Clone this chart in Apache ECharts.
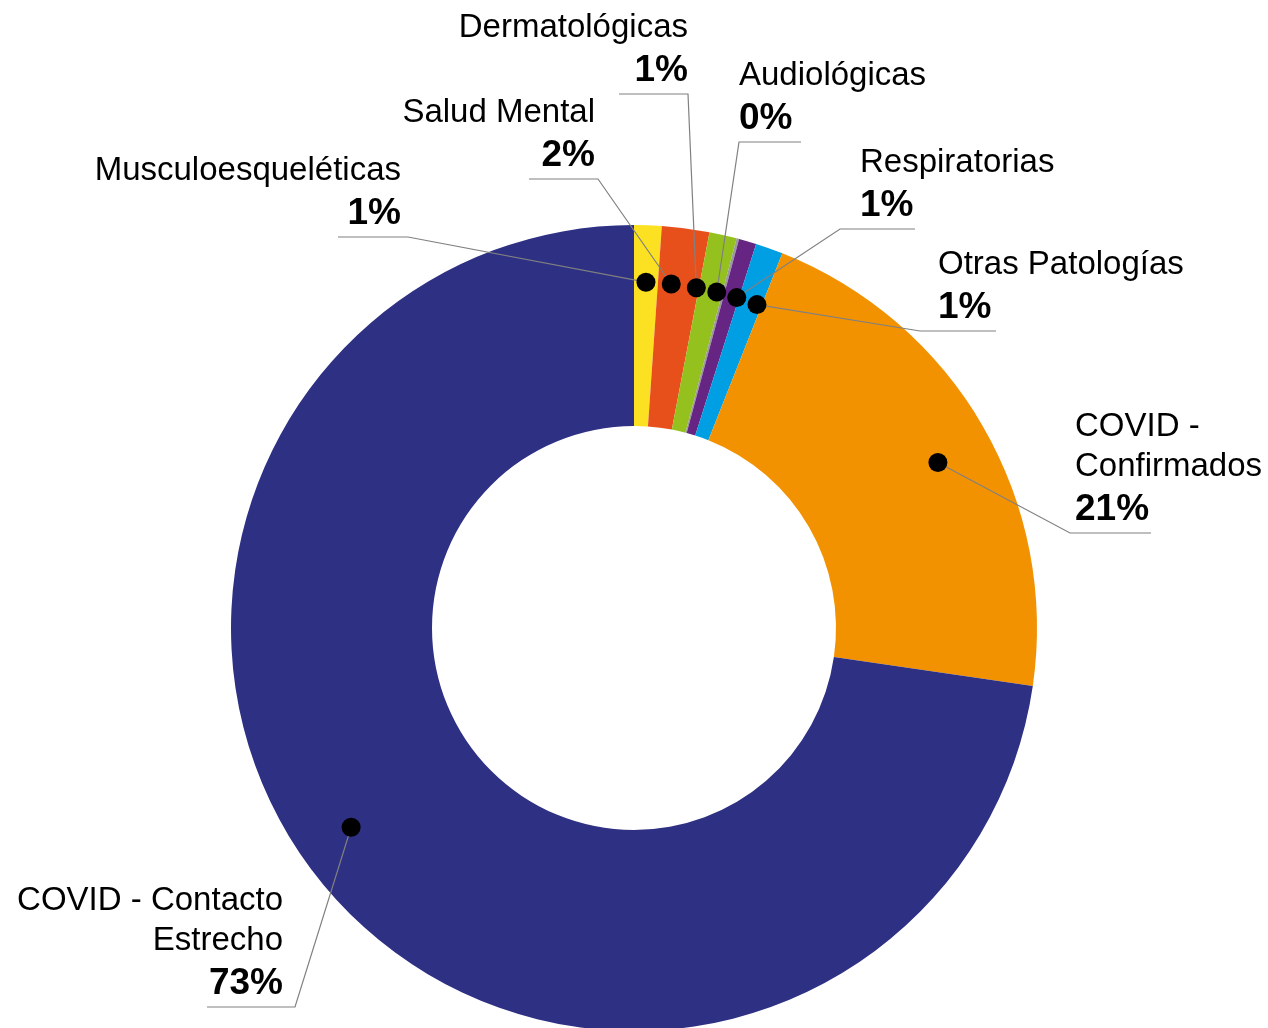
<!DOCTYPE html>
<html>
<head>
<meta charset="utf-8">
<script src="https://cdn.jsdelivr.net/npm/echarts@6/dist/echarts.min.js"></script>
<style>
  html, body { margin: 0; padding: 0; background: #fff; }
  #main { width: 1268px; height: 1028px; }
</style>
</head>
<body>
<div id="main"></div>
<script>
// categorias del grafico
var categorias = ['Musculoesqueléticas', 'Salud Mental', 'Dermatológicas', 'Audiológicas',
  'Respiratorias', 'Otras Patologías', 'COVID - Confirmados', 'COVID - Contacto Estrecho'];
// texto de las etiquetas (con los saltos de linea del original)
var etiquetas = ['Musculoesqueléticas', 'Salud Mental', 'Dermatológicas', 'Audiológicas',
  'Respiratorias', 'Otras Patologías', 'COVID -\nConfirmados', 'COVID - Contacto\nEstrecho'];
// porcentajes
var valores = [1.1, 1.9, 1.1, 0.1, 0.7, 1.1, 21.3, 72.7];
var colores = ['#FBE122', '#E8501B', '#95C11F', '#9A9A9A', '#662483', '#009FE3', '#F39200', '#2E3083'];

// posicion de las etiquetas: x, y de la linea base, alineacion, codo y final de la linea guia
var posEtiquetas = [
  { x: 401, y: 237, align: 'right', codo: 408, fin: 338 },
  { x: 595, y: 179, align: 'right', codo: 598, fin: 529 },
  { x: 688, y: 94, align: 'right', codo: 688, fin: 619 },
  { x: 739, y: 142, align: 'left', codo: 739, fin: 801 },
  { x: 860, y: 229, align: 'left', codo: 840, fin: 915 },
  { x: 938, y: 331, align: 'left', codo: 920, fin: 996 },
  { x: 1075, y: 533, align: 'left', codo: 1070, fin: 1151 },
  { x: 283, y: 1007, align: 'right', codo: 295, fin: 207 }
];
// pequeño desplazamiento (grados) de los puntos negros respecto al centro del sector
var ajustePunto = [0, -1.2, -2.4, -1.1, 0.9, 1.2, 1.5, 5.7];

var fuente = '"Liberation Sans", Arial, sans-serif';
var myChart = echarts.init(document.getElementById('main'));

// posicion del punto negro de cada sector
function puntoDe(idx, R) {
  var lay = myChart.getModel().getSeriesByIndex(0).getData().getItemLayout(idx);
  var mid = (lay.startAngle + lay.endAngle) / 2 + ajustePunto[idx] * Math.PI / 180;
  return [lay.cx + R * Math.cos(mid), lay.cy + R * Math.sin(mid)];
}

var base = {
  type: 'pie',
  center: [634, 628],
  radius: [202, 403],
  startAngle: 90,
  clockwise: true,
  avoidLabelOverlap: false,
  silent: true
};

myChart.setOption({
  animation: false,
  series: [
    // sectores de color
    Object.assign({}, base, {
      z: 1,
      data: categorias.map(function (c, i) {
        return { name: c, value: valores[i], itemStyle: { color: colores[i] } };
      }),
      label: { show: false },
      labelLine: { show: false }
    }),
    // etiquetas y lineas guia (serie transparente encima)
    Object.assign({}, base, {
      z: 3,
      data: categorias.map(function (c, i) { return { name: c, value: valores[i] }; }),
      itemStyle: { color: 'rgba(0,0,0,0)' },
      label: {
        show: true,
        position: 'outside',
        color: '#000',
        fontFamily: fuente,
        formatter: function (p) {
          return '{n|' + etiquetas[p.dataIndex].split('\n').join('}\n{n|') + '}\n{p|' + Math.round(p.value) + '%}';
        },
        rich: {
          n: { fontSize: 33, lineHeight: 40, color: '#000', fontFamily: fuente },
          p: { fontSize: 37, lineHeight: 46, fontWeight: 'bold', color: '#000', fontFamily: fuente }
        }
      },
      labelLine: {
        show: true,
        smooth: false,
        lineStyle: { color: '#808080', width: 1.2 }
      },
      labelLayout: function (p) {
        var e = posEtiquetas[p.dataIndex];
        var dot = puntoDe(p.dataIndex, 346);
        return {
          x: e.x,
          y: e.y,
          align: e.align,
          verticalAlign: 'bottom',
          labelLinePoints: [dot, [e.codo, e.y], [e.fin, e.y]]
        };
      }
    }),
    // puntos negros
    Object.assign({}, base, {
      z: 5,
      radius: [290, 400],
      data: valores.map(function (v, i) { return { name: categorias[i], value: v }; }),
      itemStyle: { color: 'rgba(0,0,0,0)' },
      label: {
        show: true,
        position: 'inside',
        formatter: '{d| }',
        rich: {
          d: { width: 19, height: 19, borderRadius: 9.5, backgroundColor: '#000' }
        }
      },
      labelLine: { show: false },
      labelLayout: function (p) {
        var dot = puntoDe(p.dataIndex, 346);
        return { x: dot[0], y: dot[1], align: 'center', verticalAlign: 'middle' };
      }
    })
  ]
});
</script>
</body>
</html>
